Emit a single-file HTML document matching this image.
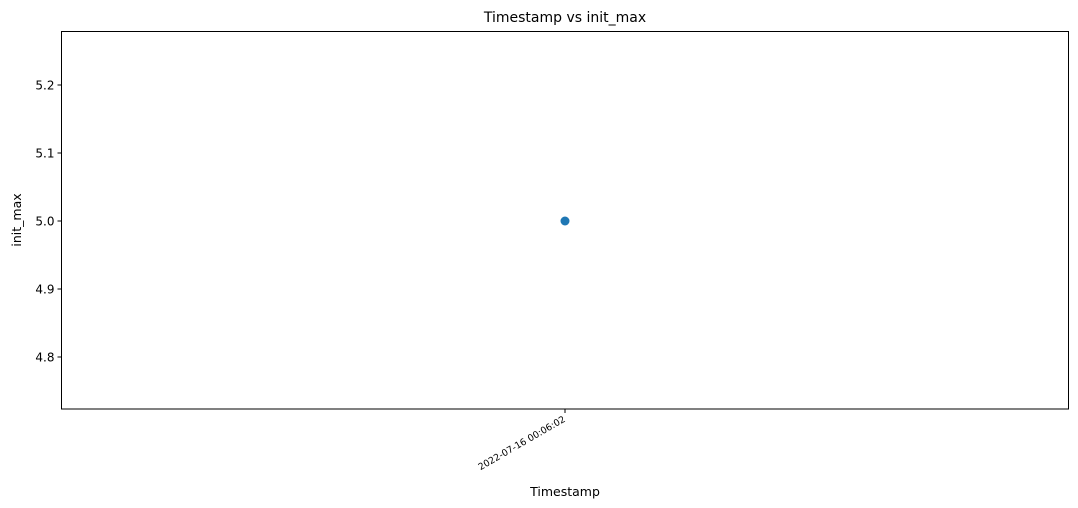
<!DOCTYPE html>
<html><head><meta charset="utf-8"><style>
html,body{margin:0;padding:0;background:#fff;}
svg{display:block;font-family:"DejaVu Sans","Liberation Sans",sans-serif;}
</style></head><body>
<svg id="chart" width="1078" height="508">
<text x="565" y="22" font-size="14" text-anchor="middle" fill="#000">Timestamp vs init_max</text>
<g id="yticks"></g>
<g id="xticks"></g>
<g id="points"></g>
<rect x="61.5" y="31.5" width="1007" height="377.5" fill="none" stroke="#000" stroke-width="1"/>
<text x="565" y="496" font-size="12.5" text-anchor="middle">Timestamp</text>
<text transform="translate(21,220) rotate(-90)" font-size="12.5" text-anchor="middle">init_max</text>
</svg>
<script>
const categories = ["2022-07-16 00:06:02"];
const values = [5.0];
const yTicks = [4.8, 4.9, 5.0, 5.1, 5.2];
const yMin = 4.7235, yMax = 5.2787;
const L = 61.5, R = 1068.5, T = 31.5, B = 409;
const ns = "http://www.w3.org/2000/svg";
function ys(v){ return B - (v - yMin) / (yMax - yMin) * (B - T); }
function xs(i){ const n = categories.length; return n === 1 ? (L + R) / 2 : L + (R - L) * (0.05 + 0.9 * i / (n - 1)); }
const yg = document.getElementById('yticks');
yTicks.forEach(t => {
  const y = ys(t);
  const ln = document.createElementNS(ns, 'line');
  ln.setAttribute('x1', L - 4); ln.setAttribute('x2', L); ln.setAttribute('y1', y); ln.setAttribute('y2', y);
  ln.setAttribute('stroke', '#000');
  
  
  yg.appendChild(ln);
  const tx = document.createElementNS(ns, 'text');
  tx.setAttribute('x', L - 7); tx.setAttribute('y', y + 4.5);
  tx.setAttribute('font-size', '12'); tx.setAttribute('text-anchor', 'end');
  tx.textContent = t.toFixed(1);
  
  
  yg.appendChild(tx);
});
const xg = document.getElementById('xticks');
const pg = document.getElementById('points');
categories.forEach((c, i) => {
  const x = xs(i);
  const ln = document.createElementNS(ns, 'line');
  ln.setAttribute('x1', x); ln.setAttribute('x2', x); ln.setAttribute('y1', B); ln.setAttribute('y2', B + 4);
  ln.setAttribute('stroke', '#000');
  
  
  xg.appendChild(ln);
  const tx = document.createElementNS(ns, 'text');
  tx.setAttribute('transform', 'translate(' + (x + 1) + ',' + (B + 12) + ') rotate(-30)');
  tx.setAttribute('font-size', '9.3'); tx.setAttribute('text-anchor', 'end');
  tx.textContent = c;
  
  
  xg.appendChild(tx);
  const pt = document.createElementNS(ns, 'circle');
  pt.setAttribute('cx', x); pt.setAttribute('cy', ys(values[i])); pt.setAttribute('r', 4.5);
  pt.setAttribute('fill', '#1f77b4');
  
  
  pg.appendChild(pt);
});
</script>
</body></html>
